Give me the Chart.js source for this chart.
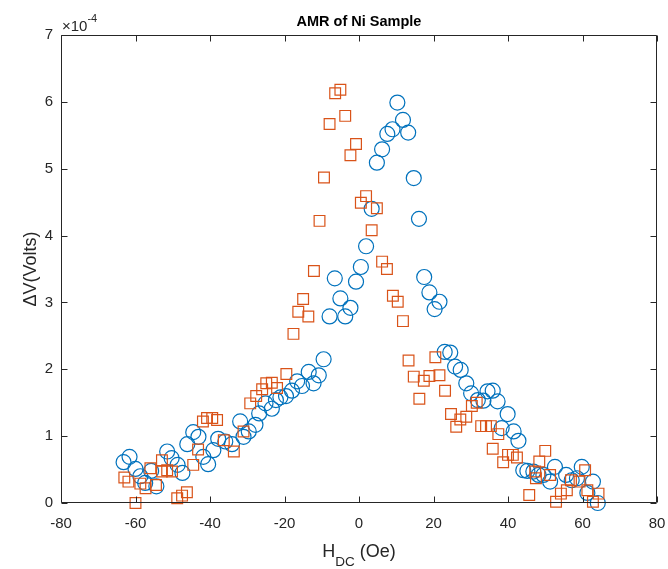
<!DOCTYPE html>
<html>
<head>
<meta charset="utf-8">
<script src="https://cdn.jsdelivr.net/npm/chart.js@4.4.1/dist/chart.umd.min.js"></script>
<style>
  html, body { margin: 0; padding: 0; background: #ffffff; }
  canvas { display: block; }
</style>
</head>
<body>
<canvas id="c" width="668" height="569"></canvas>
<script>
// ---- data (values of ΔV in units of 1e-4 V) ----
const titleText = "AMR of Ni Sample";
const xTicks = [-80, -60, -40, -20, 0, 20, 40, 60, 80];
const yTicks = [0, 1, 2, 3, 4, 5, 6, 7];
const xTickLabels = ["-80", "-60", "-40", "-20", "0", "20", "40", "60", "80"];
const yTickLabels = ["0", "1", "2", "3", "4", "5", "6", "7"];

const xBlue = [-63.2,-61.6,-60.0,-58.7,-57.4,-55.8,-54.4,-51.5,-50.3,-48.7,-47.4,-46.1,-44.5,-43.1,-41.8,-40.5,-39.1,-37.8,-35.9,-34.1,-31.9,-31.0,-29.6,-27.8,-26.8,-25.1,-23.4,-22.3,-21.1,-19.6,-18.0,-16.6,-15.3,-13.5,-12.2,-10.8,-9.5,-7.9,-6.5,-5.0,-3.7,-2.3,-0.8,0.5,1.9,3.4,4.8,6.2,7.6,9.0,10.3,11.8,13.2,14.7,16.1,17.5,18.9,20.3,21.6,23.0,24.5,25.8,27.3,28.8,30.1,31.9,33.4,34.5,35.9,37.2,38.3,39.9,41.5,42.8,44.1,45.2,46.8,48.2,49.5,51.3,52.6,55.6,57.1,58.5,59.8,61.3,62.8,64.1];
const yBlue = [0.61,0.69,0.51,0.40,0.30,0.48,0.25,0.77,0.67,0.57,0.45,0.88,1.06,0.99,0.69,0.58,0.79,0.96,0.92,0.88,1.22,0.99,1.07,1.17,1.34,1.49,1.41,1.54,1.58,1.60,1.68,1.82,1.75,1.96,1.79,1.91,2.15,2.79,3.36,3.06,2.79,2.92,3.31,3.53,3.84,4.40,5.09,5.29,5.52,5.59,5.99,5.73,5.54,4.86,4.25,3.38,3.15,2.90,3.01,2.26,2.25,2.04,1.99,1.79,1.64,1.54,1.53,1.67,1.68,1.52,1.12,1.33,1.07,0.93,0.49,0.48,0.47,0.42,0.42,0.32,0.54,0.42,0.34,0.37,0.54,0.15,0.32,0.00];

const xOrange = [-63.0,-61.9,-60.0,-58.7,-57.3,-56.0,-54.5,-52.9,-52.9,-51.5,-50.2,-48.8,-47.5,-46.2,-44.5,-43.2,-41.9,-40.8,-39.4,-38.1,-36.3,-33.6,-31.0,-29.2,-27.6,-26.0,-24.9,-23.4,-22.0,-19.5,-17.6,-16.3,-15.0,-13.6,-12.1,-10.6,-9.4,-7.9,-6.4,-5.0,-3.7,-2.3,-0.8,0.5,1.9,3.4,4.8,6.2,7.5,9.1,10.4,11.8,13.3,14.7,16.2,17.4,18.9,20.5,21.6,23.1,24.7,26.1,27.2,28.8,30.3,31.6,32.8,34.1,35.4,35.9,37.4,38.7,40.0,41.3,42.4,45.7,47.3,47.5,48.4,50.0,51.3,52.9,54.2,55.8,56.9,59.2,60.7,61.3,62.8,64.3];
const yOrange = [0.38,0.32,0.00,0.29,0.22,0.52,0.27,0.64,0.47,0.49,0.47,0.07,0.11,0.16,0.57,0.80,1.22,1.27,1.27,1.24,0.94,0.77,1.07,1.49,1.60,1.70,1.79,1.80,1.72,1.93,2.53,2.86,3.05,2.79,3.47,4.22,4.87,5.67,6.13,6.18,5.79,5.20,5.37,4.49,4.59,4.08,4.41,3.61,3.50,3.10,3.01,2.72,2.13,1.89,1.56,1.83,1.90,2.18,1.91,1.68,1.33,1.14,1.25,1.29,1.45,1.50,1.15,1.15,1.15,0.81,1.03,0.61,0.72,0.72,0.68,0.12,0.47,0.37,0.62,0.78,0.42,0.02,0.14,0.19,0.34,0.32,0.49,0.19,0.02,0.14];

const toPoints = (xs, ys) => xs.map((v, i) => ({ x: v, y: ys[i] }));

const AXIS_COLOR = '#262626';
const FONT = '"Liberation Sans", Arial, Helvetica, sans-serif';

const boxPlugin = {
  id: 'matlabBox',
  afterDatasetsDraw(chart) {
    const { ctx, chartArea, scales } = chart;
    const { left, right, top, bottom } = chartArea;
    const L = Math.round(left) + 0.5, R = Math.round(right) - 0.5;
    const T = Math.round(top) + 0.5, B = Math.round(bottom) - 0.5;
    ctx.save();
    ctx.strokeStyle = AXIS_COLOR;
    ctx.lineWidth = 1;
    ctx.beginPath();
    ctx.rect(L, T, R - L, B - T);
    ctx.stroke();
    const tl = 6;
    ctx.beginPath();
    xTicks.forEach(v => {
      const px = Math.round(scales.x.getPixelForValue(v)) + 0.5;
      ctx.moveTo(px, B); ctx.lineTo(px, B - tl);
      ctx.moveTo(px, T); ctx.lineTo(px, T + tl);
    });
    yTicks.forEach(v => {
      const py = Math.round(scales.y.getPixelForValue(v)) + 0.5;
      ctx.moveTo(L, py); ctx.lineTo(L + tl, py);
      ctx.moveTo(R, py); ctx.lineTo(R - tl, py);
    });
    ctx.stroke();

    // title
    ctx.font = 'bold 14.5px ' + FONT;
    ctx.textAlign = 'center';
    ctx.textBaseline = 'alphabetic';
    ctx.fillStyle = '#000000';
    ctx.fillText(titleText, (left + right) / 2, 26);

    // exponent label
    ctx.fillStyle = AXIS_COLOR;
    ctx.textAlign = 'left';
    ctx.font = '15px ' + FONT;
    ctx.fillText('\u00D710', left + 1, 31);
    const w10 = ctx.measureText('\u00D710').width;
    ctx.font = '11px ' + FONT;
    ctx.fillText('-4', left + 1 + w10, 22);

    // x axis title  H_DC (Oe)
    const cx = (left + right) / 2;
    const big = '18px ' + FONT, small = '13.5px ' + FONT;
    ctx.font = big;
    const wH = ctx.measureText('H').width;
    const wRest = ctx.measureText(' (Oe)').width;
    ctx.font = small;
    const wDC = ctx.measureText('DC').width;
    const total = wH + wDC + wRest;
    let sx = cx - total / 2;
    const base = 557;
    ctx.font = big;
    ctx.fillText('H', sx, base);
    ctx.font = small;
    ctx.fillText('DC', sx + wH, base + 9);
    ctx.font = big;
    ctx.fillText(' (Oe)', sx + wH + wDC, base);

    // y axis title
    ctx.save();
    ctx.translate(36, (top + bottom) / 2);
    ctx.rotate(-Math.PI / 2);
    ctx.textAlign = 'center';
    ctx.font = '18px ' + FONT;
    ctx.fillText('\u0394V(Volts)', 0, 0);
    ctx.restore();

    ctx.restore();
  }
};

new Chart(document.getElementById('c'), {
  type: 'scatter',
  data: {
    datasets: [
      {
        label: 'orange',
        data: toPoints(xOrange, yOrange),
        pointStyle: 'rect',
        pointRadius: 7.6,
        pointHoverRadius: 7.6,
        borderColor: 'rgb(217,83,25)',
        backgroundColor: 'rgba(0,0,0,0)',
        borderWidth: 1.2,
        clip: false,
        order: 0
      },
      {
        label: 'blue',
        data: toPoints(xBlue, yBlue),
        pointStyle: 'circle',
        pointRadius: 7.5,
        pointHoverRadius: 7.5,
        borderColor: 'rgb(0,114,189)',
        backgroundColor: 'rgba(0,0,0,0)',
        borderWidth: 1.2,
        clip: false,
        order: 1
      }
    ]
  },
  options: {
    responsive: false,
    animation: false,
    events: [],
    layout: { padding: { top: 35, right: 11, left: 0, bottom: 0 } },
    plugins: { legend: { display: false }, tooltip: { enabled: false }, title: { display: false } },
    scales: {
      x: {
        type: 'linear',
        min: -80, max: 80,
        grid: { display: false, drawTicks: false },
        border: { display: false },
        afterBuildTicks: s => { s.ticks = xTicks.map(v => ({ value: v })); },
        afterFit: s => { s.height = 66; s.paddingLeft = 0; s.paddingRight = 0; },
        ticks: {
          color: AXIS_COLOR,
          font: { family: FONT, size: 15 },
          padding: 12,
          maxRotation: 0,
          callback: (v) => xTickLabels[xTicks.indexOf(v)]
        }
      },
      y: {
        type: 'linear',
        min: 0, max: 7,
        grid: { display: false, drawTicks: false },
        border: { display: false },
        afterBuildTicks: s => { s.ticks = yTicks.map(v => ({ value: v })); },
        afterFit: s => { s.width = 61; s.paddingTop = 0; s.paddingBottom = 0; },
        ticks: {
          color: AXIS_COLOR,
          font: { family: FONT, size: 15 },
          padding: 8,
          callback: (v) => yTickLabels[yTicks.indexOf(v)]
        }
      }
    }
  },
  plugins: [boxPlugin]
});
</script>
</body>
</html>
